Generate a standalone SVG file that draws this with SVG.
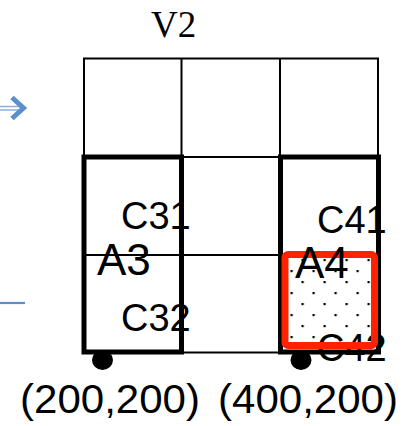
<svg xmlns="http://www.w3.org/2000/svg" width="403" height="426" viewBox="0 0 403 426">
<style>
.thin{fill:none;stroke:#000;stroke-width:2}
.thick{fill:none;stroke:#000;stroke-width:5}
.lbl{font-family:"Liberation Sans",Arial,sans-serif;fill:#000}
.blue{stroke:#5b8fcb;fill:none}
</style>
<defs>
<pattern id="dots" patternUnits="userSpaceOnUse" x="290.5" y="270" width="22" height="22">
<rect x="0" y="0" width="2.2" height="2.2" fill="#000"/>
<rect x="11" y="11" width="2.2" height="2.2" fill="#000"/>
</pattern>
</defs>
<rect width="403" height="426" fill="#fff"/>
<g id="connectors">
<line class="blue" x1="0" y1="106.5" x2="20" y2="106.5" stroke-width="1.5" opacity="0.7"/>
<line class="blue" x1="0" y1="110" x2="20" y2="110" stroke-width="1.5" opacity="0.7"/>
<polyline class="blue" points="12,97.5 23.5,108 12,118.5" stroke-width="5"/>
<line class="blue" x1="0" y1="303" x2="25" y2="303" stroke-width="2.2"/>
</g>
<g id="title"><text class="lbl" x="151" y="37" style="font-family:'Liberation Serif','Times New Roman',serif" font-size="37">V2</text></g>
<g id="grid">
<rect class="thin" x="84" y="58.5" width="294" height="294"/>
<line class="thin" x1="181.5" y1="58.5" x2="181.5" y2="352.5"/>
<line class="thin" x1="280" y1="58.5" x2="280" y2="352.5"/>
<line class="thin" x1="84" y1="157" x2="378" y2="157"/>
<line class="thin" x1="84" y1="255" x2="378" y2="255"/>
</g>
<g id="A3">
<rect class="thick" x="84" y="157" width="97.5" height="195"/>
<text class="lbl" x="121" y="229" font-size="38">C31</text>
<text class="lbl" x="121" y="331" font-size="38">C32</text>
<text class="lbl" x="97" y="275" font-size="44">A3</text>
<ellipse cx="102.5" cy="360" rx="10.5" ry="10"/>
</g>
<g id="A4">
<rect class="thick" x="280.5" y="157" width="98" height="195"/>
<text class="lbl" x="317" y="233" font-size="38">C41</text>
<text class="lbl" x="317" y="361" font-size="38">C42</text>
<rect x="285" y="254.5" width="89.5" height="91" rx="3" fill="url(#dots)" stroke="#ff2200" stroke-width="7"/>
<text class="lbl" x="295" y="278" font-size="44">A4</text>
<ellipse cx="301" cy="360" rx="10.5" ry="10"/>
</g>
<g id="coords">
<text class="lbl" x="20" y="413" font-size="40" textLength="180" lengthAdjust="spacingAndGlyphs">(200,200)</text>
<text class="lbl" x="218" y="413" font-size="40" textLength="180" lengthAdjust="spacingAndGlyphs">(400,200)</text>
</g>
</svg>
